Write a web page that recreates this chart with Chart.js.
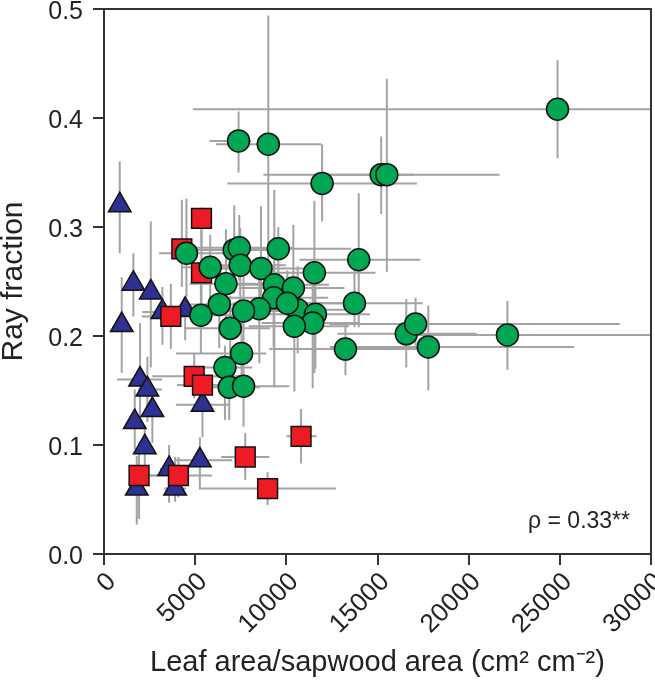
<!DOCTYPE html>
<html>
<head>
<meta charset="utf-8">
<script src="https://cdn.jsdelivr.net/npm/chart.js@4"></script>
<style>
  html, body { margin: 0; padding: 0; background: #fff; }
  #wrap { width: 655px; height: 686px; }
</style>
</head>
<body>
<div id="wrap"><canvas id="grafico"></canvas></div>
<script>
// valores
const greenX = [24874, 7379, 9011, 11962, 15203, 15511, 4522, 7143, 7418, 7473, 5824, 8610, 9560, 11538, 13972, 6687, 9341, 10385, 6319, 9302, 8516, 7654, 5313, 10621, 11593, 11445, 10440, 6923, 13736, 7544, 6632, 6868, 7654, 13242, 16577, 17088, 17786, 22126, 10055];
const greenY = [0.408, 0.379, 0.376, 0.340, 0.348, 0.348, 0.276, 0.279, 0.281, 0.265, 0.263, 0.262, 0.280, 0.258, 0.270, 0.248, 0.247, 0.244, 0.229, 0.235, 0.225, 0.223, 0.219, 0.224, 0.220, 0.212, 0.209, 0.207, 0.230, 0.184, 0.171, 0.153, 0.154, 0.188, 0.202, 0.211, 0.190, 0.201, 0.230];
// erros [menos, mais]
const greenXErr = [[20000, 8000], [1600, 700], [2860, 2900], [5200, 5200], [6460, 6500], [4000, 1500], [1500, 2500], [2000, 2000], [2500, 3000], [2000, 2500], [1500, 1800], [2500, 3000], [3000, 4000], [3500, 3350], [3260, 3370], [2000, 2200], [2400, 3000], [3000, 2800], [1800, 2400], [3300, 3000], [2800, 3500], [2600, 2700], [1700, 2700], [3800, 3300], [3800, 3000], [2800, 2600], [2500, 3000], [2500, 2200], [3500, 3740], [3600, 1350], [1500, 1500], [1000, 1700], [1500, 2500], [4180, 4450], [3780, 3860], [4730, 11200], [5400, 8000], [5100, 8900], [3000, 3000]];
const greenYErr = [[0.045, 0.045], [0.029, 0.027], [0.14, 0.118], [0.035, 0.036], [0.036, 0.035], [0.089, 0.088], [0.04, 0.05], [0.04, 0.041], [0.03, 0.03], [0.04, 0.034], [0.03, 0.03], [0.04, 0.057], [0.03, 0.02], [0.092, 0.066], [0.062, 0.061], [0.035, 0.05], [0.094, 0.087], [0.04, 0.058], [0.04, 0.04], [0.045, 0.03], [0.05, 0.035], [0.04, 0.05], [0.035, 0.035], [0.04, 0.04], [0.05, 0.03], [0.06, 0.035], [0.06, 0.04], [0.04, 0.03], [0.022, 0.05], [0.025, 0.03], [0.048, 0.02], [0.03, 0.025], [0.037, 0.03], [0.024, 0.022], [0.031, 0.032], [0.02, 0.024], [0.04, 0.038], [0.032, 0.031], [0.03, 0.03]];

const redX = [5346, 4269, 5346, 3665, 4945, 5401, 1923, 4082, 7747, 10808, 8973];
const redY = [0.308, 0.280, 0.258, 0.218, 0.163, 0.155, 0.072, 0.072, 0.089, 0.108, 0.060];
const redXErr = [[300, 300], [400, 600], [400, 400], [1600, 1600], [2300, 2470], [1390, 1470], [500, 1000], [1610, 1850], [1320, 1320], [800, 850], [3660, 3760]];
const redYErr = [[0.03, 0.01], [0.035, 0.045], [0.04, 0.05], [0.03, 0.03], [0.02, 0.021], [0.015, 0.015], [0.04, 0.03], [0.02, 0.017], [0.021, 0.022], [0.025, 0.025], [0.015, 0.015]];

const blueX = [863, 1610, 2566, 3203, 4451, 973, 1978, 2379, 2654, 1687, 2236, 3571, 5258, 5401, 1797, 3901];
const blueY = [0.320, 0.248, 0.240, 0.222, 0.224, 0.210, 0.160, 0.151, 0.132, 0.121, 0.098, 0.078, 0.086, 0.137, 0.060, 0.060];
const blueXErr = [[300, 300], [300, 400], [400, 400], [1100, 760], [500, 500], [300, 300], [1260, 1210], [500, 800], [400, 400], [400, 400], [400, 400], [500, 500], [1320, 1770], [1460, 1470], [400, 400], [600, 600]];
const blueYErr = [[0.044, 0.040], [0.03, 0.028], [0.069, 0.065], [0.03, 0.023], [0.028, 0.01], [0.044, 0.044], [0.04, 0.052], [0.03, 0.03], [0.03, 0.02], [0.025, 0.03], [0.02, 0.02], [0.031, 0.022], [0.027, 0.021], [0.03, 0.02], [0.033, 0.03], [0.012, 0.029]];

const xTicks = [0, 5000, 10000, 15000, 20000, 25000, 30000];
const yTicks = [0.0, 0.1, 0.2, 0.3, 0.4, 0.5];
const rhoText = 'ρ = 0.33**';

const FONT = "'Liberation Sans', Arial, Helvetica, sans-serif";

function pontos(xs, ys, xe, ye) {
    return xs.map((x, i) => ({ x: x, y: ys[i], xe: xe[i], ye: ye[i] }));
}

// barras de erro cinzas, atras dos marcadores
const barrasErro = {
    id: 'barrasErro',
    beforeDatasetsDraw(chart) {
        const ctx = chart.ctx;
        const a = chart.chartArea;
        const xs = chart.scales.x, ys = chart.scales.y;
        ctx.save();
        ctx.beginPath();
        ctx.rect(a.left, a.top, a.right - a.left, a.bottom - a.top);
        ctx.clip();
        ctx.strokeStyle = '#a3a3a3';
        ctx.lineWidth = 2;
        chart.data.datasets.forEach(ds => {
            ds.data.forEach(p => {
                const px = xs.getPixelForValue(p.x);
                const py = ys.getPixelForValue(p.y);
                ctx.beginPath();
                ctx.moveTo(xs.getPixelForValue(p.x - p.xe[0]), py);
                ctx.lineTo(xs.getPixelForValue(p.x + p.xe[1]), py);
                ctx.moveTo(px, ys.getPixelForValue(p.y - p.ye[0]));
                ctx.lineTo(px, ys.getPixelForValue(p.y + p.ye[1]));
                ctx.stroke();
            });
        });
        ctx.restore();
    },
    afterDraw(chart) {
        const ctx = chart.ctx;
        const a = chart.chartArea;
        ctx.save();
        // moldura de cima e da direita
        ctx.strokeStyle = '#333';
        ctx.lineWidth = 2;
        ctx.beginPath();
        ctx.moveTo(a.left, a.top);
        ctx.lineTo(a.right, a.top);
        ctx.lineTo(a.right, a.bottom);
        ctx.stroke();
        // texto do rho
        ctx.fillStyle = '#222';
        ctx.font = '23px ' + FONT;
        ctx.textAlign = 'right';
        ctx.textBaseline = 'alphabetic';
        ctx.fillText(rhoText, a.right - 21, a.bottom - 26);
        ctx.restore();
    }
};

const ctx = document.getElementById('grafico').getContext('2d');

new Chart(ctx, {
    type: 'scatter',
    data: {
        datasets: [
            {
                label: 'green',
                data: pontos(greenX, greenY, greenXErr, greenYErr),
                pointStyle: 'circle',
                pointRadius: 11,
                backgroundColor: '#00a651',
                borderColor: '#111',
                borderWidth: 1.5,
            },
            {
                label: 'red',
                data: pontos(redX, redY, redXErr, redYErr),
                pointStyle: 'rect',
                pointRadius: 14,
                backgroundColor: '#ed1c24',
                borderColor: '#111',
                borderWidth: 1.5,
            },
            {
                label: 'blue',
                data: pontos(blueX, blueY, blueXErr, blueYErr),
                pointStyle: 'triangle',
                pointRadius: 13,
                backgroundColor: '#2e3192',
                borderColor: '#111',
                borderWidth: 1.5,
            }
        ]
    },
    options: {
        responsive: true,
        maintainAspectRatio: false,
        animation: false,
        layout: {
            autoPadding: false,
            padding: { top: 9, right: 4, left: 0, bottom: 0 }
        },
        scales: {
            x: {
                type: 'linear',
                min: 0,
                max: 30000,
                afterBuildTicks(scale) {
                    scale.ticks = xTicks.map(v => ({ value: v }));
                },
                afterFit(scale) {
                    scale.height = 132;
                    scale.paddingLeft = 0;
                    scale.paddingRight = 0;
                },
                grid: {
                    display: true,
                    drawOnChartArea: false,
                    drawTicks: true,
                    tickLength: 11,
                    color: '#333',
                    lineWidth: 2,
                },
                border: { display: true, color: '#333', width: 2 },
                ticks: {
                    color: '#222',
                    minRotation: 45,
                    maxRotation: 45,
                    padding: 10,
                    labelOffset: 8,
                    font: { size: 26, family: FONT, lineHeight: 0.3 },
                    callback: v => String(v),
                },
                title: {
                    display: true,
                    text: 'Leaf area/sapwood area (cm² cm⁻²)',
                    color: '#222',
                    font: { size: 29, family: FONT, lineHeight: 1 },
                    padding: { top: 0, bottom: 9 },
                }
            },
            y: {
                type: 'linear',
                min: 0,
                max: 0.5,
                afterBuildTicks(scale) {
                    scale.ticks = yTicks.map(v => ({ value: v }));
                },
                afterFit(scale) {
                    scale.width = 104;
                    scale.paddingTop = 0;
                    scale.paddingBottom = 0;
                },
                grid: {
                    display: true,
                    drawOnChartArea: false,
                    drawTicks: true,
                    tickLength: 11,
                    color: '#333',
                    lineWidth: 2,
                },
                border: { display: true, color: '#333', width: 2 },
                ticks: {
                    color: '#222',
                    padding: 10,
                    labelOffset: 3,
                    font: { size: 25, family: FONT, lineHeight: 0.5 },
                    callback: v => Number(v).toFixed(1),
                },
                title: {
                    display: true,
                    text: 'Ray fraction',
                    color: '#222',
                    font: { size: 30, family: FONT, lineHeight: 0.9 },
                    padding: { top: 0, bottom: 0 },
                }
            }
        },
        plugins: {
            legend: { display: false },
            tooltip: { enabled: false },
        }
    },
    plugins: [barrasErro]
});
</script>
</body>
</html>
